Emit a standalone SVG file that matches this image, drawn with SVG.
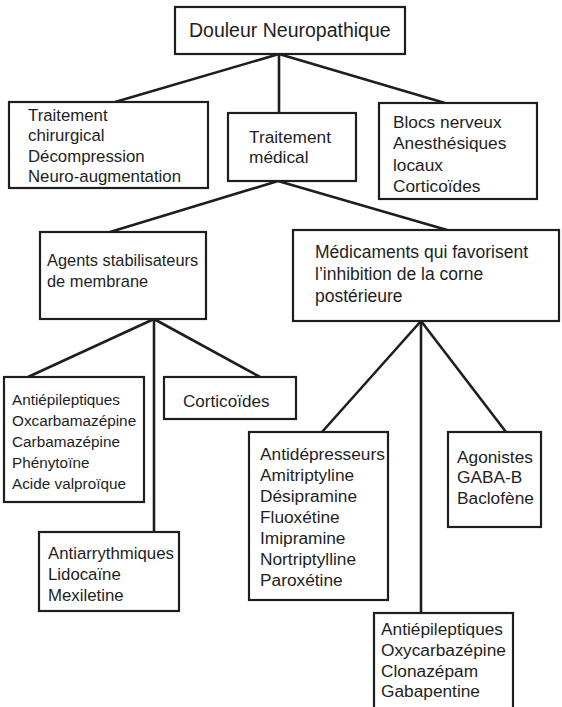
<svg xmlns="http://www.w3.org/2000/svg" width="562" height="707" viewBox="0 0 562 707">
<style>
  .box { fill: #ffffff; stroke: #1e1e1e; stroke-width: 2.2; }
  .conn line { stroke: #1e1e1e; stroke-width: 2.6; stroke-linecap: butt; }
  text { font-family: "Liberation Sans", Arial, Helvetica, sans-serif; fill: #1e1e1e; }
  .f173 { font-size: 17.3px; }
</style>
<rect width="562" height="707" fill="#ffffff"/>
<g id="connectors" class="conn">
  <line x1="279" y1="54" x2="115" y2="102"/>
  <line x1="279" y1="54" x2="279" y2="113"/>
  <line x1="279" y1="54" x2="445" y2="103"/>
  <line x1="278" y1="181" x2="110" y2="232"/>
  <line x1="278" y1="181" x2="447" y2="230"/>
  <line x1="154" y1="319" x2="28" y2="377"/>
  <line x1="154" y1="319" x2="154" y2="532"/>
  <line x1="154" y1="319" x2="260" y2="377"/>
  <line x1="421" y1="321" x2="322" y2="432"/>
  <line x1="421" y1="321" x2="421" y2="613"/>
  <line x1="421" y1="321" x2="506" y2="432"/>
</g>
<g id="root">
  <rect class="box" x="175" y="7" width="230" height="47"/>
  <text x="189" y="37" style="font-size:19.5px">Douleur Neuropathique</text>
</g>
<g id="chirurgical">
  <rect class="box" x="9" y="102" width="199" height="86"/>
  <text style="font-size:16.8px"><tspan x="28" y="121">Traitement</tspan><tspan x="28" y="141">chirurgical</tspan><tspan x="28" y="162">Décompression</tspan><tspan x="28" y="182">Neuro-augmentation</tspan></text>
</g>
<g id="medical">
  <rect class="box" x="228" y="113" width="128" height="68"/>
  <text class="f173"><tspan x="249" y="143">Traitement</tspan><tspan x="249" y="163">médical</tspan></text>
</g>
<g id="blocs">
  <rect class="box" x="379" y="103" width="158" height="96"/>
  <text class="f173"><tspan x="393" y="128">Blocs nerveux</tspan><tspan x="393" y="149">Anesthésiques</tspan><tspan x="393" y="171">locaux</tspan><tspan x="393" y="192">Corticoïdes</tspan></text>
</g>
<g id="agents">
  <rect class="box" x="40" y="232" width="166" height="87"/>
  <text style="font-size:16.4px"><tspan x="47" y="266">Agents stabilisateurs</tspan><tspan x="47" y="287">de membrane</tspan></text>
</g>
<g id="medicaments">
  <rect class="box" x="293" y="230" width="266" height="91"/>
  <text style="font-size:17.5px"><tspan x="315" y="258">Médicaments qui favorisent</tspan><tspan x="315" y="280">l’inhibition de la corne</tspan><tspan x="315" y="302">postérieure</tspan></text>
</g>
<g id="antiepileptiques1">
  <rect class="box" x="4" y="377" width="140" height="125"/>
  <text style="font-size:15.3px"><tspan x="12" y="405">Antiépileptiques</tspan><tspan x="12" y="426">Oxcarbamazépine</tspan><tspan x="12" y="447">Carbamazépine</tspan><tspan x="12" y="468">Phénytoïne</tspan><tspan x="12" y="489">Acide valproïque</tspan></text>
</g>
<g id="corticoides">
  <rect class="box" x="164" y="377" width="132" height="42"/>
  <text style="font-size:17.1px" x="183" y="407">Corticoïdes</text>
</g>
<g id="antiarrythmiques">
  <rect class="box" x="39" y="532" width="140" height="79"/>
  <text style="font-size:16.8px"><tspan x="48" y="559">Antiarrythmiques</tspan><tspan x="48" y="580">Lidocaïne</tspan><tspan x="48" y="601">Mexiletine</tspan></text>
</g>
<g id="antidepresseurs">
  <rect class="box" x="249" y="432" width="139" height="168"/>
  <text class="f173"><tspan x="260" y="460">Antidépresseurs</tspan><tspan x="260" y="481">Amitriptyline</tspan><tspan x="260" y="502">Désipramine</tspan><tspan x="260" y="523">Fluoxétine</tspan><tspan x="260" y="544">Imipramine</tspan><tspan x="260" y="565">Nortriptylline</tspan><tspan x="260" y="586">Paroxétine</tspan></text>
</g>
<g id="agonistes">
  <rect class="box" x="448" y="432" width="93" height="95"/>
  <text class="f173"><tspan x="457" y="463">Agonistes</tspan><tspan x="457" y="483">GABA-B</tspan><tspan x="457" y="504">Baclofène</tspan></text>
</g>
<g id="antiepileptiques2">
  <rect class="box" x="374" y="613" width="139" height="110"/>
  <text class="f173"><tspan x="381" y="635">Antiépileptiques</tspan><tspan x="381" y="656">Oxycarbazépine</tspan><tspan x="381" y="677">Clonazépam</tspan><tspan x="381" y="697">Gabapentine</tspan></text>
</g>
</svg>
